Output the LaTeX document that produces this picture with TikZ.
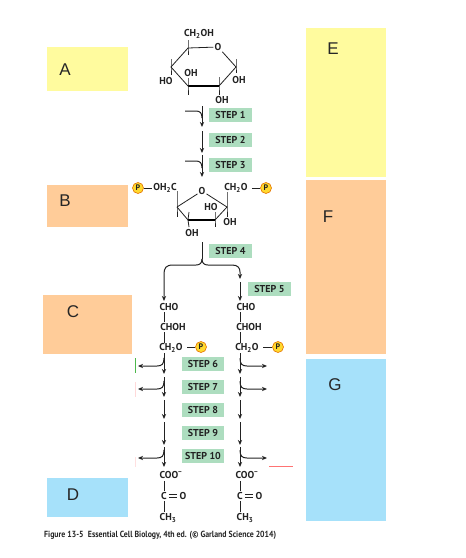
\documentclass[tikz,border=0pt]{standalone}
\usepackage{fontspec}
\setmainfont{PT Sans}
\setsansfont{Liberation Sans}
\usetikzlibrary{arrows.meta}
\definecolor{ylw}{HTML}{FFFB9E}
\definecolor{org}{HTML}{FFCC99}
\definecolor{blu}{HTML}{A6E1FA}
\definecolor{stepg}{HTML}{ADDDBF}
\definecolor{ink}{HTML}{222222}
\definecolor{pgold}{HTML}{FFD92E}
\newcommand{\sbb}[1]{\textsubscript{#1}}
\tikzset{
  x=1pt,y=-1pt,
  panel/.style={fill=#1,draw=none},
  letter/.style={font=\sffamily\fontsize{17}{17}\selectfont,text=black!85,inner sep=0pt},
  chem/.style={font=\bfseries\fontsize{10}{10}\selectfont,text=ink,inner sep=1pt},
  stepbox/.style={fill=stepg,minimum width=43pt,minimum height=14pt,inner sep=0pt,font=\bfseries\fontsize{10}{10}\selectfont,text=ink},
  phos/.style={circle,fill=pgold,draw=orange!90!black,line width=.6pt,minimum size=11pt,inner sep=0pt,font=\bfseries\fontsize{8}{8}\selectfont,text=ink},
  bond/.style={draw=ink,line width=.8pt},
  thickbond/.style={draw=black,line width=2.6pt},
  flow/.style={draw=ink,line width=1pt,-{Stealth[length=5pt,width=4.2pt]}},
}
\begin{document}
\begin{tikzpicture}
\useasboundingbox (0,0) rectangle (466,558);
\fill[white] (0,0) rectangle (466,558);
% colour panels
\fill[panel=ylw] (47,47) rectangle (128,91);
\fill[panel=org] (47,185) rectangle (128,227);
\fill[panel=org] (43,295) rectangle (132,354);
\fill[panel=blu] (47,478) rectangle (128,517);
\fill[panel=ylw] (306,28) rectangle (386,177);
\fill[panel=org] (306,180) rectangle (386,354);
\fill[panel=blu] (306,359) rectangle (386,521);
\node[letter] (la) at (65,70) {A};
\node[letter] (lb) at (65,201) {B};
\node[letter] (lc) at (73,312) {C};
\node[letter] (ld) at (73,495) {D};
\node[letter] (le) at (333,49) {E};
\node[letter] (lf) at (328,217) {F};
\node[letter] (lg) at (335,385) {G};
% glucose
\coordinate (g5) at (188,48);
\coordinate (g1) at (236,67);
\coordinate (g2) at (219,86);
\coordinate (g3) at (188,86);
\coordinate (g4) at (171,67);
\node[chem] (go) at (218,47) {O};
\node[chem] (gch) at (199,34) {CH\sbb{2}OH};
\node[chem] (goh3) at (191,73) {OH};
\node[chem] (gho) at (166,81) {HO};
\node[chem] (goh1) at (239,80) {OH};
\node[chem] (goh2) at (222,100) {OH};
\draw[bond] (g5) -- (go) -- (g1) -- (g2);
\draw[bond] (g3) -- (g4) -- (g5);
\draw[thickbond] (g3) -- (g2);
\draw[bond] (188,40) -- (g5) -- (188,55);
\draw[bond] (236,59) -- (g1) -- (236,73);
\draw[bond] (171,59) -- (g4) -- (171,75);
\draw[bond] (188,78) -- (g3) -- (188,95);
\draw[bond] (219,77) -- (g2) -- (219,95);
% steps 1-3
\node[stepbox] (s1) at (230.5,115) {STEP 1};
\node[stepbox] (s2) at (230.5,140) {STEP 2};
\node[stepbox] (s3) at (230.5,165) {STEP 3};
\draw[flow] (202,106) -- (202,127);
\draw[flow] (202,131) -- (202,153);
\draw[flow] (202,155) -- (202,177);
\draw[bond,line width=1pt] (185,111) -- (196,111) .. controls (200,111) and (202,113) .. (202,118);
\draw[bond,line width=1pt] (185,161) -- (196,161) .. controls (200,161) and (202,163) .. (202,168);
% fructose bisphosphate
\node[phos] (pa) at (138,188) {P};
\node[chem] (foh) at (165,188) {OH\sbb{2}C};
\node[chem] (fo) at (202,191) {O};
\node[chem] (fch) at (236,188) {CH\sbb{2}O};
\node[phos] (pb) at (266,188) {P};
\coordinate (f1) at (177,207);
\coordinate (f2) at (188,220);
\coordinate (f3) at (215,220);
\coordinate (f4) at (227,207);
\node[chem] (fho) at (211,207) {HO};
\node[chem] (foh1) at (230,222) {OH};
\node[chem] (foh2) at (192,233) {OH};
\draw[bond] (pa) -- (foh);
\draw[bond] ([xshift=3pt]fch.east) -- (pb);
\draw[bond] (f1) -- (fo) -- (f4) -- (f3);
\draw[bond] (f1) -- (f2);
\draw[thickbond] (f2) -- (f3);
\draw[bond] (177,191) -- (f1) -- (177,217);
\draw[bond] (227,192) -- (f4) -- (227,217);
\draw[bond] (189,212) -- (f2) -- (189,227);
\draw[bond] (215,212) -- (f3) -- (215,227);
% step 4/5
\node[stepbox] (s4) at (230.5,251) {STEP 4};
\node[stepbox] (s5) at (269.5,289) {STEP 5};
\draw[bond,line width=1pt] (202,242) -- (202,259);
\draw[flow] (202,259) .. controls (202,263) and (200,265) .. (196,265) -- (173,265) .. controls (166,265) and (164,268) .. (164,274) -- (164,301);
\draw[flow] (202,259) .. controls (202,263) and (204,265) .. (208,265) -- (232,265) .. controls (238,265) and (240,268) .. (240,272) -- (240,279);
\draw[flow] (240,282) -- (240,301);
% triose phosphates
\node[chem] (la1) at (169,307) {CHO};
\node[chem] (la2) at (173,327) {CHOH};
\node[chem] (la3) at (171,348) {CH\sbb{2}O};
\node[phos] (pc) at (201,347) {P};
\node[chem] (ra1) at (246,307) {CHO};
\node[chem] (ra2) at (249,327) {CHOH};
\node[chem] (ra3) at (247,348) {CH\sbb{2}O};
\node[phos] (pd) at (278,347) {P};
\draw[bond] (164,312) -- (164,322);
\draw[bond] (164,332) -- (164,343);
\draw[bond] (240,312) -- (240,322);
\draw[bond] (240,332) -- (240,343);
\draw[bond] (187,347) -- (pc);
\draw[bond] (263,347) -- (pd);
% steps 6-10
\node[stepbox,minimum width=42pt] (s6) at (203,364) {STEP 6};
\node[stepbox,minimum width=42pt] (s7) at (203,387) {STEP 7};
\node[stepbox,minimum width=42pt] (s8) at (203,410) {STEP 8};
\node[stepbox,minimum width=42pt] (s9) at (203,433) {STEP 9};
\node[stepbox,minimum width=42pt] (s10) at (203,456) {STEP 10};
\foreach \xx in {164,240}{
  \draw[flow] (\xx,353) -- (\xx,374);
  \draw[flow] (\xx,377) -- (\xx,397);
  \draw[flow] (\xx,400) -- (\xx,419);
  \draw[flow] (\xx,422) -- (\xx,445);
  \draw[flow] (\xx,447) -- (\xx,467);
}
\foreach \yy in {366,389,458}{
  \draw[flow] (164,\yy-8) .. controls (164,\yy-2) and (162,\yy) .. (157,\yy) -- (138,\yy);
  \draw[flow] (240,\yy-8) .. controls (240,\yy-2) and (242,\yy) .. (247,\yy) -- (267,\yy);
}
% pyruvate
\node[chem] (lb1) at (171,475) {COO\textsuperscript{−}};
\node[chem] (lb2) at (164,496) {C};
\node[chem] (lb3) at (183,496) {O};
\node[chem] (lb4) at (168,518) {CH\sbb{3}};
\node[chem] (rb1) at (247,475) {COO\textsuperscript{−}};
\node[chem] (rb2) at (240,496) {C};
\node[chem] (rb3) at (259,496) {O};
\node[chem] (rb4) at (245,518) {CH\sbb{3}};
\draw[bond] (164,481) -- (164,491);
\draw[bond] (164,501) -- (164,512);
\draw[bond] (240,481) -- (240,491);
\draw[bond] (240,501) -- (240,512);
\foreach \dd in {-1.2,1.2}{
  \draw[bond,line width=.7pt] ([yshift=\dd pt,xshift=1pt]lb2.east) -- ([yshift=\dd pt,xshift=-1pt]lb3.west);
  \draw[bond,line width=.7pt] ([yshift=\dd pt,xshift=1pt]rb2.east) -- ([yshift=\dd pt,xshift=-1pt]rb3.west);
}
% stray marks
\draw[draw=green!60!black!70,line width=.8pt] (135,358) -- (135,373);
\draw[draw=red!15,line width=.6pt] (135,382) -- (135,397);
\draw[draw=red!12,line width=.6pt] (135,457) -- (135,467);
\draw[draw=red!55!white,line width=.7pt] (269,466) -- (293,466);
% caption
\node[anchor=west,inner sep=0pt,font=\bfseries\fontsize{8.9}{9}\selectfont,text=black!85,xscale=.88,transform shape] (cap) at (44,535) {Figure 13-5\hspace{5pt}Essential Cell Biology, 4th ed. (© Garland Science 2014)};
\end{tikzpicture}
\end{document}
